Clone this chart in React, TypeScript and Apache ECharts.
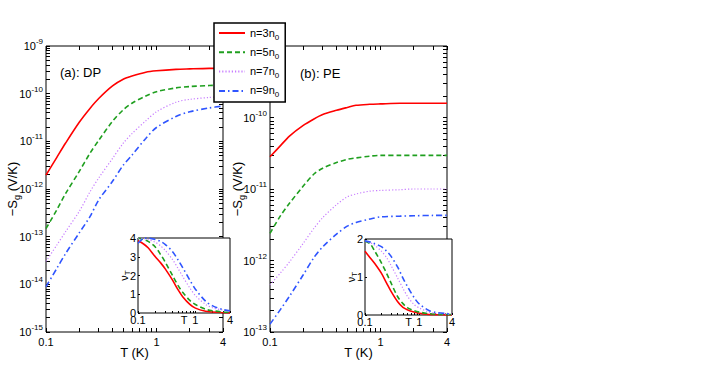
import React, { useEffect, useRef } from "react";
import * as echarts from "echarts";

// ---------- data ----------
const T = [0.1, 0.125, 0.15, 0.2, 0.25, 0.3, 0.4, 0.5, 0.6, 0.8, 1, 1.5, 2, 3, 4];
const seriesNames = ["n=3n0", "n=5n0", "n=7n0", "n=9n0"];

// (a) DP : -S_g (V/K)
const dpN3 = [1.95e-12, 4.57e-12, 9.1e-12, 2.51e-11, 4.9e-11, 7.9e-11, 1.45e-10, 2.0e-10, 2.34e-10, 2.82e-10, 3.02e-10, 3.24e-10, 3.31e-10, 3.39e-10, 3.4e-10];
const dpN5 = [1.48e-13, 3.63e-13, 7.94e-13, 2.34e-12, 5.62e-12, 1.05e-11, 2.63e-11, 4.57e-11, 6.31e-11, 8.91e-11, 1.1e-10, 1.32e-10, 1.41e-10, 1.48e-10, 1.51e-10];
const dpN7 = [3.02e-14, 6.61e-14, 1.26e-13, 3.39e-13, 8.71e-13, 1.7e-12, 4.37e-12, 9.12e-12, 1.45e-11, 2.69e-11, 4.17e-11, 6.61e-11, 7.59e-11, 8.32e-11, 8.71e-11];
const dpN9 = [8.91e-15, 2.14e-14, 4.37e-14, 1.2e-13, 2.63e-13, 5.89e-13, 1.45e-12, 3.16e-12, 5.13e-12, 1.15e-11, 1.95e-11, 3.31e-11, 4.17e-11, 5.01e-11, 5.5e-11];

// (b) PE : -S_g (V/K)
const peN3 = [2.82e-11, 4.07e-11, 5.5e-11, 7.76e-11, 9.55e-11, 1.1e-10, 1.26e-10, 1.38e-10, 1.48e-10, 1.53e-10, 1.55e-10, 1.58e-10, 1.58e-10, 1.58e-10, 1.58e-10];
const peN5 = [2.4e-12, 4.27e-12, 6.31e-12, 1.1e-11, 1.62e-11, 1.95e-11, 2.34e-11, 2.6e-11, 2.72e-11, 2.88e-11, 2.95e-11, 2.95e-11, 2.95e-11, 2.95e-11, 2.95e-11];
const peN7 = [4.57e-13, 6.76e-13, 9.55e-13, 1.74e-12, 2.82e-12, 3.98e-12, 6.03e-12, 7.76e-12, 8.51e-12, 9.33e-12, 9.55e-12, 9.77e-12, 1.0e-11, 1.0e-11, 1.0e-11];
const peN9 = [1.29e-13, 2.09e-13, 3.16e-13, 6.31e-13, 1.1e-12, 1.55e-12, 2.34e-12, 3.02e-12, 3.39e-12, 3.8e-12, 4.07e-12, 4.17e-12, 4.22e-12, 4.27e-12, 4.27e-12];

// insets : nu_T
const dpNu3 = [3.85, 3.68, 3.48, 3.0, 2.66, 2.34, 1.75, 1.23, 0.87, 0.46, 0.26, 0.09, 0.05, 0.015, 0.005];
const dpNu5 = [4.0, 3.92, 3.82, 3.52, 3.1, 2.7, 2.0, 1.46, 1.11, 0.67, 0.45, 0.2, 0.12, 0.06, 0.035];
const dpNu7 = [4.0, 3.97, 3.92, 3.77, 3.57, 3.33, 2.85, 2.37, 1.95, 1.33, 0.93, 0.46, 0.28, 0.155, 0.09];
const dpNu9 = [3.72, 3.98, 4.0, 3.92, 3.81, 3.65, 3.27, 2.82, 2.42, 1.75, 1.27, 0.63, 0.38, 0.185, 0.12];
const peNu3 = [1.68, 1.5, 1.36, 1.1, 0.84, 0.63, 0.35, 0.2, 0.14, 0.078, 0.045, 0.015, 0.008, 0.003, 0.001];
const peNu5 = [1.95, 1.87, 1.69, 1.375, 1.095, 0.85, 0.48, 0.3, 0.194, 0.115, 0.076, 0.035, 0.02, 0.012, 0.01];
const peNu7 = [1.95, 1.9, 1.84, 1.68, 1.51, 1.31, 0.97, 0.7, 0.5, 0.277, 0.185, 0.08, 0.045, 0.03, 0.02];
const peNu9 = [1.95, 1.92, 1.88, 1.8, 1.68, 1.55, 1.26, 0.97, 0.76, 0.46, 0.29, 0.12, 0.07, 0.04, 0.03];

// tick labels
const xLabels = [0.1, 1, 4];
const xTicks = [0.1, 0.2, 0.3, 0.4, 0.5, 0.6, 0.7, 0.8, 0.9, 1, 2, 3, 4];
const yLabelsDP = [1e-15, 1e-14, 1e-13, 1e-12, 1e-11, 1e-10, 1e-9];
const yLabelsPE = [1e-13, 1e-12, 1e-11, 1e-10, 1e-9];

const F = '"Liberation Sans", Arial, Helvetica, sans-serif';
const COLORS = ["#ff0000", "#1f9f1f", "#c77dff", "#2f55ff"];
const WIDTHS = [1.6, 1.6, 1.2, 1.6];
const DASHES: any[] = ["solid", [5, 3], [1.2, 2], [6, 3, 1.5, 3]];

function logTicks(decades: number[]) {
  const out: number[] = [];
  for (let i = 0; i < decades.length - 1; i++) {
    for (let m = 1; m <= 9; m++) out.push(m * decades[i]);
  }
  out.push(decades[decades.length - 1]);
  return out;
}

const supFmt = (v: number) => {
  const e = Math.round(Math.log10(v));
  return `{b|10}{s|${e}}`;
};
const supRich = {
  b: { fontSize: 11, lineHeight: 17, fontFamily: F, color: "#000" },
  s: { fontSize: 8, lineHeight: 8, verticalAlign: "top", fontFamily: F, color: "#000" },
};

function mainX(grid: number) {
  return [
    {
      type: "log", gridIndex: grid, min: 0.1, max: 4, logBase: 10,
      name: "T (K)", nameLocation: "middle", nameGap: 14, nameMoveOverlap: false,
      nameTextStyle: { fontSize: 13, fontFamily: F, color: "#000" },
      axisLine: { show: false },
      axisTick: { show: true, inside: true, length: 4, customValues: xTicks, lineStyle: { color: "#000" } },
      axisLabel: { customValues: xLabels, margin: 4, fontSize: 11, fontFamily: F, color: "#000", formatter: (v: number) => String(+v.toPrecision(3)) },
      splitLine: { show: false },
    },
    {
      type: "log", gridIndex: grid, min: 0.1, max: 4, logBase: 10, position: "top",
      axisLine: { show: false },
      axisTick: { show: true, inside: true, length: 4, customValues: xTicks, lineStyle: { color: "#000" } },
      axisLabel: { show: false },
      splitLine: { show: false },
    },
  ];
}

function mainY(grid: number, decades: number[], nameGap: number) {
  const ticks = logTicks(decades);
  return [
    {
      type: "log", gridIndex: grid, min: decades[0], max: decades[decades.length - 1], logBase: 10,
      name: "{a|\u2212S}{g|g}{a| (V/K)}", nameLocation: "middle", nameGap, nameMoveOverlap: false,
      nameTextStyle: {
        color: "#000",
        rich: {
          a: { fontSize: 13, lineHeight: 17, fontFamily: F, color: "#000" },
          g: { fontSize: 9, lineHeight: 9, verticalAlign: "bottom", fontFamily: F, color: "#000" },
        },
      },
      axisLine: { show: false },
      axisTick: { show: true, inside: true, length: 4, customValues: ticks, lineStyle: { color: "#000" } },
      axisLabel: { customValues: decades, margin: 3, formatter: supFmt, rich: supRich },
      splitLine: { show: false },
    },
    {
      type: "log", gridIndex: grid, min: decades[0], max: decades[decades.length - 1], logBase: 10, position: "right",
      axisLine: { show: false },
      axisTick: { show: true, inside: true, length: 4, customValues: ticks, lineStyle: { color: "#000" } },
      axisLabel: { show: false },
      splitLine: { show: false },
    },
  ];
}

function insetX(grid: number) {
  return {
    type: "log", gridIndex: grid, min: 0.1, max: 4, logBase: 10, z: 6,
    name: "T", nameLocation: "middle", nameGap: 1, nameMoveOverlap: false,
    nameTextStyle: { fontSize: 11, fontFamily: F, color: "#000", verticalAlign: "top" },
    axisLine: { show: false },
    axisTick: { show: true, inside: true, length: 2, customValues: xTicks, lineStyle: { color: "#000" } },
    axisLabel: { customValues: xLabels, margin: 1, fontSize: 11, fontFamily: F, color: "#000", formatter: (v: number) => String(+v.toPrecision(3)) },
    splitLine: { show: false },
  };
}

function insetY(grid: number, max: number) {
  return {
    type: "value", gridIndex: grid, min: 0, max, interval: 1, z: 6,
    name: "{a|\u03bd}{t|T}", nameLocation: "middle", nameGap: 7, nameMoveOverlap: false,
    nameTextStyle: {
      color: "#000",
      rich: {
        a: { fontSize: 11, lineHeight: 14, fontFamily: F, color: "#000" },
        t: { fontSize: 8, lineHeight: 8, verticalAlign: "bottom", fontFamily: F, color: "#000" },
      },
    },
    axisLine: { show: false },
    axisTick: { show: true, inside: true, length: 2, lineStyle: { color: "#000" } },
    axisLabel: { margin: 2, fontSize: 11, fontFamily: F, color: "#000" },
    splitLine: { show: false },
  };
}

function mk(k: number, vals: number[], xi: number, yi: number, z: number) {
  return {
    type: "line",
    name: seriesNames[k],
    data: T.map((t, i) => [t, vals[i]]),
    xAxisIndex: xi,
    yAxisIndex: yi,
    symbol: "none",
    showSymbol: false,
    smooth: 0.3,
    z,
    lineStyle: { color: COLORS[k], width: WIDTHS[k], type: DASHES[k] },
    itemStyle: { color: COLORS[k] },
  };
}

export default function App() {
  const ref = useRef<HTMLDivElement>(null);
  useEffect(() => {
    document.body.style.margin = "0";
    const chart = echarts.init(ref.current!, undefined, { renderer: "svg" });
    const gridBase = { show: true, borderColor: "#000", borderWidth: 1, containLabel: false };
    const option: any = {
      animation: false,
      backgroundColor: "#fff",
      textStyle: { fontFamily: F },
      grid: [
        { ...gridBase, left: 46, top: 46, width: 177, height: 286, backgroundColor: "transparent", z: 0 },
        { ...gridBase, left: 270, top: 46, width: 177, height: 286, backgroundColor: "transparent", z: 0 },
        { ...gridBase, left: 138, top: 238, width: 92, height: 75, backgroundColor: "#fff", z: 5 },
        { ...gridBase, left: 365, top: 239, width: 87, height: 76, backgroundColor: "#fff", z: 5 },
      ],
      xAxis: [...mainX(0), ...mainX(1), insetX(2), insetX(3)],
      yAxis: [...mainY(0, yLabelsDP, 25), ...mainY(1, yLabelsPE, 24), insetY(2, 4), insetY(3, 2)],
      legend: {
        show: true,
        orient: "vertical",
        left: 214,
        top: 23,
        z: 10,
        data: seriesNames,
        backgroundColor: "#fff",
        borderColor: "#000",
        borderWidth: 1.5,
        borderRadius: 0,
        padding: [2, 6, 3, 4],
        itemWidth: 26,
        itemHeight: 14,
        itemGap: 3.3,
        selectedMode: false,
        itemStyle: { opacity: 0 },
        formatter: (name: string) => `{a|${name.slice(0, -1)}}{s|${name.slice(-1)}}`,
        textStyle: {
          rich: {
            a: { fontSize: 11, lineHeight: 12, verticalAlign: "top", fontFamily: F, color: "#000" },
            s: { fontSize: 8, lineHeight: 8, padding: [8, 0, 0, 0], fontFamily: F, color: "#000" },
          },
        },
      },
      graphic: [
        { type: "text", x: 60, y: 66, z: 3, style: { text: "(a): DP", font: `13px ${F}`, fill: "#000" } },
        { type: "text", x: 300, y: 67, z: 3, style: { text: "(b): PE", font: `13px ${F}`, fill: "#000" } },
      ],
      series: [
        mk(0, dpN3, 0, 0, 2), mk(1, dpN5, 0, 0, 2), mk(2, dpN7, 0, 0, 2), mk(3, dpN9, 0, 0, 2),
        mk(0, peN3, 2, 2, 2), mk(1, peN5, 2, 2, 2), mk(2, peN7, 2, 2, 2), mk(3, peN9, 2, 2, 2),
        mk(0, dpNu3, 4, 4, 7), mk(1, dpNu5, 4, 4, 7), mk(2, dpNu7, 4, 4, 7), mk(3, dpNu9, 4, 4, 7),
        mk(0, peNu3, 5, 5, 7), mk(1, peNu5, 5, 5, 7), mk(2, peNu7, 5, 5, 7), mk(3, peNu9, 5, 5, 7),
      ],
    };
    chart.setOption(option);
    return () => chart.dispose();
  }, []);
  return <div ref={ref} style={{ width: 708, height: 382 }} />;
}
